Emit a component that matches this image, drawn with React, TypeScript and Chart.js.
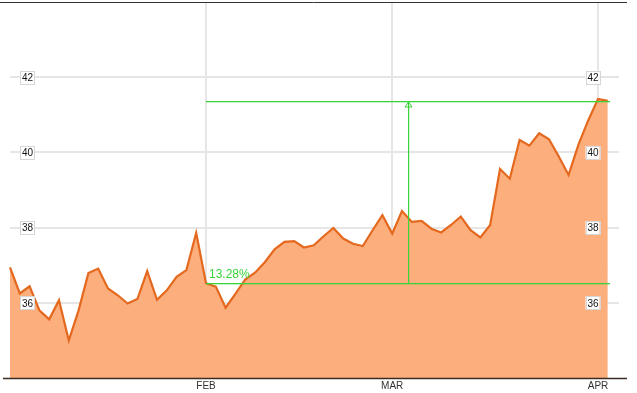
import React, { useEffect, useRef } from "react";
import { Chart, registerables } from "chart.js";

Chart.register(...registerables);

// Daily closing prices (trading-day index 0..61)
const prices: number[] = [
  36.94, 36.25, 36.44, 35.8, 35.56, 36.07, 35.0, 35.8, 36.79, 36.91,
  36.38, 36.2, 35.98, 36.1, 36.84, 36.08, 36.33, 36.69, 36.87, 37.86,
  36.52, 36.43, 35.87, 36.24, 36.62, 36.8, 37.08, 37.42, 37.62, 37.64,
  37.47, 37.53, 37.77, 37.99, 37.71, 37.57, 37.51, 37.93, 38.33, 37.84,
  38.44, 38.15, 38.18, 37.97, 37.87, 38.07, 38.29, 37.93, 37.74, 38.07,
  39.56, 39.3, 40.33, 40.18, 40.51, 40.35, 39.89, 39.4, 40.2, 40.85,
  41.42, 41.37,
];

// Month boundary labels and the trading-day index where each starts
const monthLabels: string[] = ["FEB", "MAR", "APR"];
const monthIndex: number[] = [20, 39, 60];

// Y tick labels
const yTicks: number[] = [36, 38, 40, 42];

// Change measurement annotation
const changeStartIndex = 20;
const changeEndIndex = 61;
const changeArrowIndex = 40.6;
const changeLabel = "13.28%";

export default function App() {
  const ref = useRef<HTMLCanvasElement>(null);

  useEffect(() => {
    if (!ref.current) return;
    const data = prices.map((y, i) => ({ x: i, y }));
    const startVal = prices[changeStartIndex];
    const endVal = prices[changeEndIndex];

    const custom = {
      id: "custom",
      beforeDatasetsDraw(chart: any) {
        const ctx = chart.ctx;
        const xs = chart.scales.x;
        const ys = chart.scales.y;
        const area = chart.chartArea;
        ctx.save();
        ctx.strokeStyle = "#e6e6e6";
        ctx.lineWidth = 2;
        const gl = xs.getPixelForValue(0);
        const gr = xs.getPixelForValue(62.15);
        yTicks.forEach((t) => {
          const y = Math.round(ys.getPixelForValue(t));
          ctx.beginPath();
          ctx.moveTo(gl, y);
          ctx.lineTo(gr, y);
          ctx.stroke();
        });
        monthIndex.forEach((m) => {
          const x = Math.round(xs.getPixelForValue(m));
          ctx.beginPath();
          ctx.moveTo(x, area.top);
          ctx.lineTo(x, area.bottom);
          ctx.stroke();
        });
        ctx.restore();
      },
      afterDatasetsDraw(chart: any) {
        const ctx = chart.ctx;
        const xs = chart.scales.x;
        const ys = chart.scales.y;
        const area = chart.chartArea;
        ctx.save();
        // top & bottom borders
        ctx.strokeStyle = "#333333";
        ctx.lineWidth = 1;
        ctx.beginPath();
        ctx.moveTo(0, 2.5);
        ctx.lineTo(area.right, 2.5);
        ctx.stroke();
        ctx.strokeStyle = "#3a2c22";
        ctx.lineWidth = 1.5;
        ctx.beginPath();
        ctx.moveTo(area.left, area.bottom + 0.5);
        ctx.lineTo(area.right, area.bottom + 0.5);
        ctx.stroke();

        // month labels
        ctx.fillStyle = "#333333";
        ctx.font = "10px 'Liberation Sans', Arial, sans-serif";
        ctx.textAlign = "center";
        ctx.textBaseline = "middle";
        monthIndex.forEach((m, i) => {
          ctx.fillText(monthLabels[i], xs.getPixelForValue(m), 386.5);
        });

        // y tick labels in boxes (left and right)
        const boxCentersX = [27, 592.5];
        yTicks.forEach((t) => {
          const y = ys.getPixelForValue(t);
          boxCentersX.forEach((cx) => {
            const w = 14;
            const h = 13;
            ctx.fillStyle = "#ffffff";
            ctx.fillRect(cx - w / 2, y - h / 2, w, h);
            ctx.strokeStyle = "#d6d6d6";
            ctx.lineWidth = 1;
            ctx.strokeRect(Math.round(cx - w / 2) + 0.5, Math.round(y - h / 2) + 0.5, w, h);
            ctx.fillStyle = "#111111";
            ctx.font = "10px 'Liberation Sans', Arial, sans-serif";
            ctx.textAlign = "center";
            ctx.textBaseline = "middle";
            ctx.fillText(String(t), cx + 0.5, y + 1);
          });
        });

        // change annotation
        const green = "#3ad43a";
        const x1 = Math.round(xs.getPixelForValue(changeStartIndex));
        const x2 = Math.round(xs.getPixelForValue(changeEndIndex)) + 2;
        const yTop = Math.round(ys.getPixelForValue(endVal));
        const yBot = Math.round(ys.getPixelForValue(startVal));
        ctx.fillStyle = green;
        ctx.fillRect(x1, yTop, x2 - x1, 1.3);
        ctx.fillRect(x1, yBot, x2 - x1, 1.3);
        const xa = Math.round(xs.getPixelForValue(changeArrowIndex));
        ctx.fillRect(xa, yTop + 1, 1.2, yBot - yTop - 1);
        ctx.strokeStyle = green;
        ctx.lineWidth = 1;
        ctx.beginPath();
        ctx.moveTo(xa + 0.5, yTop + 1);
        ctx.lineTo(xa + 0.5 - 3.5, yTop + 6);
        ctx.lineTo(xa + 0.5 + 3.5, yTop + 6);
        ctx.closePath();
        ctx.stroke();

        ctx.fillStyle = green;
        ctx.font = "12px 'Liberation Sans', Arial, sans-serif";
        ctx.textAlign = "left";
        ctx.textBaseline = "alphabetic";
        ctx.fillText(changeLabel, x1 + 3, yBot - 5);
        ctx.restore();
      },
    };

    const chart = new Chart(ref.current, {
      type: "line",
      data: {
        datasets: [
          {
            data,
            borderColor: "#e4691f",
            backgroundColor: "#fcae7d",
            fill: "start",
            borderWidth: 2.2,
            pointRadius: 0,
            tension: 0,
          },
        ],
      },
      options: {
        animation: false,
        responsive: false,
        maintainAspectRatio: false,
        layout: { padding: { left: 3, right: 10, top: 2, bottom: 15 } },
        scales: {
          x: { type: "linear", min: -0.714, max: 62.96, display: false },
          y: { type: "linear", min: 34, max: 44, display: false },
        },
        plugins: {
          legend: { display: false },
          tooltip: { enabled: false },
        },
      },
      plugins: [custom],
    } as any);

    return () => chart.destroy();
  }, []);

  return (
    <canvas
      ref={ref}
      width={637}
      height={393}
      style={{ position: "fixed", left: 0, top: 0, width: 637, height: 393 }}
    />
  );
}
